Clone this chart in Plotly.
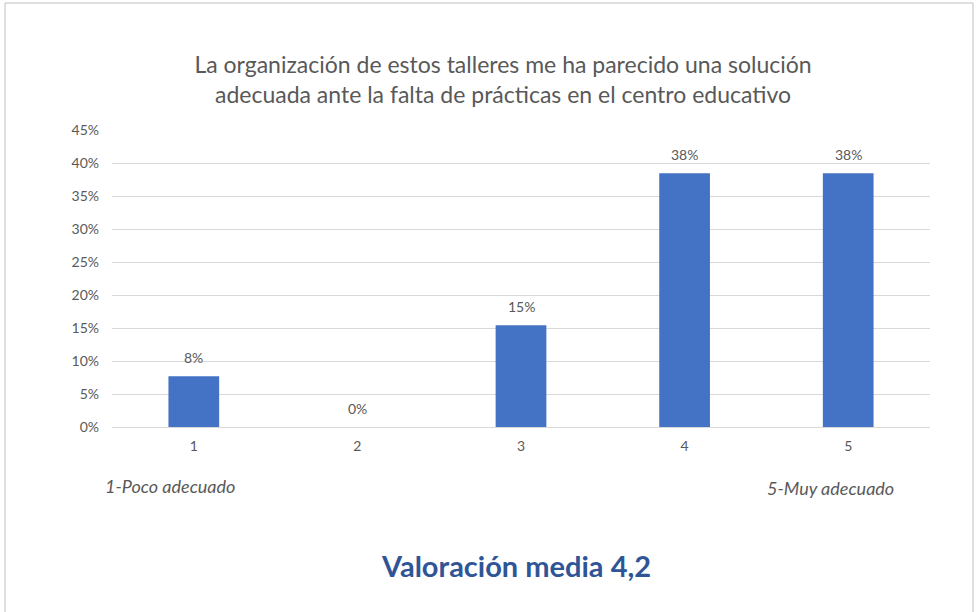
import plotly.graph_objects as go

categories = ["1", "2", "3", "4", "5"]
values = [0.077, 0.0, 0.154, 0.3846, 0.3846]
ytick_vals = [0, 0.05, 0.10, 0.15, 0.20, 0.25, 0.30, 0.35, 0.40, 0.45]
ytick_text = ["0%", "5%", "10%", "15%", "20%", "25%", "30%", "35%", "40%", "45%"]
title_text = "La organización de estos talleres me ha parecido una solución<br>adecuada ante la falta de prácticas en el centro educativo"
low_label = "1-Poco adecuado"
high_label = "5-Muy adecuado"
mean_label = "Valoración media 4,2"

FONT = "Lato, 'Open Sans', sans-serif"
GRAY = "#595959"

fig = go.Figure()
fig.add_trace(go.Bar(
    x=categories, y=values,
    marker=dict(color="#4472C4", line=dict(width=0)),
    width=0.31,
))

for i, v in enumerate(values):
    fig.add_annotation(x=i, y=v, xref="x", yref="y", text=f"{v:.0%}",
                       showarrow=False, yanchor="bottom", yshift=8,
                       font=dict(family=FONT, size=14, color=GRAY))

L, R, T, B = 112, 47, 130, 185
W, H = 977, 612
pw, ph = W - L - R, H - T - B

def px(x):
    return (x - L) / pw

def py(y):
    return (H - B - y) / ph

fig.update_layout(
    width=W, height=H,
    margin=dict(l=L, r=R, t=T, b=B),
    paper_bgcolor="white", plot_bgcolor="white",
    showlegend=False,
    font=dict(family=FONT, color=GRAY),
    title=dict(text=title_text, x=503 / W, xanchor="center",
               y=1 - 73 / H, yanchor="middle",
               font=dict(family=FONT, size=23, color=GRAY)),
    xaxis=dict(type="category", showgrid=False, showline=True,
               range=[-0.5, len(categories) - 0.5],
               linecolor="#D9D9D9", linewidth=1, ticks="",
               tickfont=dict(family=FONT, size=14, color=GRAY),
               ticklabelstandoff=6),
    yaxis=dict(range=[0, 0.45], tickvals=ytick_vals, ticktext=ytick_text,
               showgrid=True, gridcolor="#D9D9D9", gridwidth=1,
               zeroline=False, showline=False, ticks="",
               tickfont=dict(family=FONT, size=14, color=GRAY),
               ticklabelstandoff=12),
    bargap=0.69,
)

fig.add_shape(type="rect", xref="paper", yref="paper",
              x0=px(5), x1=px(973), y0=py(640), y1=py(3),
              line=dict(color="#BFBFBF", width=1), fillcolor="rgba(0,0,0,0)",
              layer="below")

fig.add_annotation(text=f"<i>{low_label}</i>", xref="paper", yref="paper",
                   x=px(103), y=py(486), xanchor="left", yanchor="middle",
                   showarrow=False, font=dict(family=FONT, size=18, color=GRAY))
fig.add_annotation(text=f"<i>{high_label}</i>", xref="paper", yref="paper",
                   x=px(896), y=py(488), xanchor="right", yanchor="middle",
                   showarrow=False, font=dict(family=FONT, size=18, color=GRAY))
fig.add_annotation(text=f"<b>{mean_label}</b>", xref="paper", yref="paper",
                   x=px(516), y=py(565), xanchor="center", yanchor="middle",
                   showarrow=False, font=dict(family=FONT, size=29, color="#2F5597"))

fig.write_html("out.html", config={"displayModeBar": False},
               post_script="document.body.style.margin='0';")
